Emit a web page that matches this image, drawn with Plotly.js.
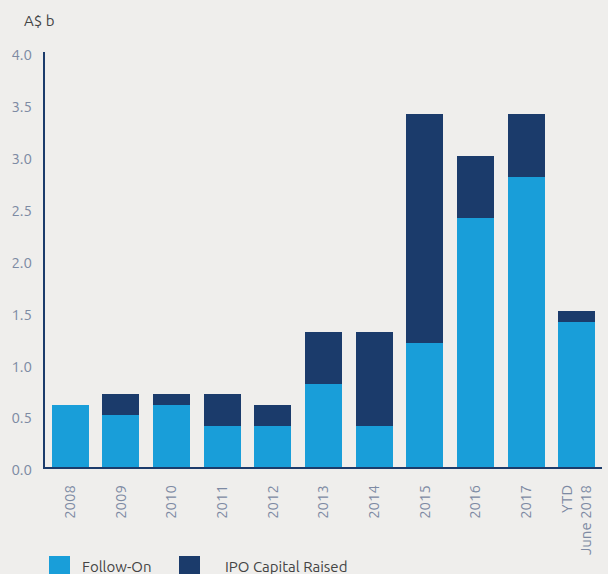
<!DOCTYPE html>
<html>
<head>
<meta charset="utf-8">
<script src="https://cdn.plot.ly/plotly-3.0.1.min.js"></script>
<style>html,body{margin:0;padding:0;background:#efeeec;}#chart{width:608px;height:574px;}</style>
</head>
<body>
<div id="chart"></div>
<script>
const categories = ['2008','2009','2010','2011','2012','2013','2014','2015','2016','2017','YTD<br>June 2018'];
const followOn = [0.6, 0.5, 0.6, 0.4, 0.4, 0.8, 0.4, 1.2, 2.4, 2.8, 1.4];
const ipoCapital = [0.0, 0.2, 0.1, 0.3, 0.2, 0.5, 0.9, 2.2, 0.6, 0.6, 0.1];
const yTicks = [0, 0.5, 1.0, 1.5, 2.0, 2.5, 3.0, 3.5, 4.0];
const seriesNames = ['Follow-On', 'IPO Capital Raised'];
const colors = ['#199ed9', '#1b3b6b'];

const font = 'Ubuntu, "Open Sans", "DejaVu Sans", sans-serif';
const data = [
  {type:'bar', x:categories, y:followOn, name:seriesNames[0], marker:{color:colors[0]}, showlegend:false},
  {type:'bar', x:categories, y:ipoCapital, name:seriesNames[1], marker:{color:colors[1]}, showlegend:false}
];
const layout = {
  width:608, height:574,
  paper_bgcolor:'#efeeec', plot_bgcolor:'#efeeec',
  margin:{l:45, r:6, t:52, b:107},
  barmode:'stack', bargap:0.27,
  font:{family:font, color:'#7d8aa3', size:14},
  xaxis:{type:'category', tickangle:-90, showline:true, linecolor:'#1b3b6b', linewidth:2,
         ticks:'', showgrid:false, zeroline:false, ticklabelstandoff:10, tickfont:{size:15, color:'#7d8aa3'}, fixedrange:true},
  yaxis:{range:[0,4.0], tickvals:yTicks, tickformat:'.1f', showline:true, linecolor:'#1b3b6b', linewidth:2,
         ticks:'', showgrid:false, zeroline:false, ticklabelstandoff:8, ticklabelshift:3, tickfont:{size:15, color:'#7d8aa3'}, fixedrange:true},
  shapes:[
    {type:'rect', xref:'paper', yref:'paper', x0:(49-45)/557, x1:(70-45)/557, y0:(467-574)/415, y1:(467-556)/415, fillcolor:colors[0], line:{width:0}},
    {type:'rect', xref:'paper', yref:'paper', x0:(179-45)/557, x1:(200-45)/557, y0:(467-574)/415, y1:(467-556)/415, fillcolor:colors[1], line:{width:0}}
  ],
  annotations:[
    {text:'A$ b', xref:'paper', yref:'paper', x:(22-45)/557, y:(467-20)/415, xanchor:'left', yanchor:'middle', showarrow:false, font:{size:15, color:'#444444'}},
    {text:seriesNames[0], xref:'paper', yref:'paper', x:(80-45)/557, y:(467-566)/415, xanchor:'left', yanchor:'middle', showarrow:false, font:{size:15, color:'#444444'}},
    {text:seriesNames[1], xref:'paper', yref:'paper', x:(223-45)/557, y:(467-566)/415, xanchor:'left', yanchor:'middle', showarrow:false, font:{size:15, color:'#444444'}}
  ]
};
Plotly.newPlot('chart', data, layout, {displayModeBar:false, staticPlot:true});
</script>
</body>
</html>
